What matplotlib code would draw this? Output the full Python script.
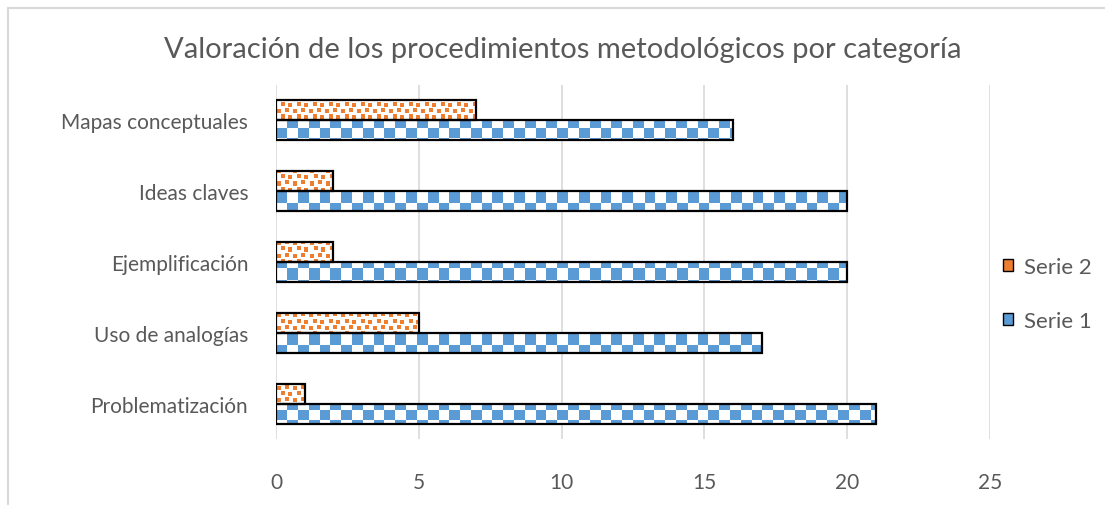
import numpy as np
import matplotlib.pyplot as plt
from matplotlib.patches import Patch
from matplotlib.lines import Line2D

categories = ['Problematización', 'Uso de analogías', 'Ejemplificación', 'Ideas claves', 'Mapas conceptuales']
serie1 = [21, 17, 20, 20, 16]
serie2 = [1, 5, 2, 2, 7]
xticks = [0, 5, 10, 15, 20, 25]

BLUE = (0x5B / 255, 0x9B / 255, 0xD5 / 255)
ORANGE = (0xED / 255, 0x7D / 255, 0x31 / 255)
TEXT = '#595959'
GRID = '#D9D9D9'

plt.rcParams['font.family'] = ['Lato', 'DejaVu Sans']

W, H = 1105, 506
fig = plt.figure(figsize=(W / 100, H / 100), dpi=100)
ax = fig.add_axes([276 / W, 66 / H, 714 / W, 354 / H])

# pixel size of the axes, for the fill patterns
aw, ah = 714, 354


def checker(color, cell=10.8):
    yy, xx = np.mgrid[0:ah, 0:aw]
    mask = ((np.floor(xx / cell) + np.floor(yy / cell)) % 2) == 0
    img = np.ones((ah, aw, 3))
    img[mask] = color
    return img


def confetti(color):
    tile = np.zeros((12, 16), dtype=bool)
    dots = [(1, 1), (0, 9), (6, 5), (7, 12)]
    for r, c in dots:
        tile[r:r + 4, c:c + 4] = True
    mask = np.tile(tile, (ah // 12 + 1, aw // 16 + 1))[:ah, :aw]
    img = np.ones((ah, aw, 3))
    img[mask] = color
    return img


ext = (0, 25, -0.5, len(categories) - 0.5)
y = np.arange(len(categories))
h = 0.283

bars1 = ax.barh(y - h / 2, serie1, height=h, facecolor='none', edgecolor='black', linewidth=1.6, zorder=3)
bars2 = ax.barh(y + h / 2, serie2, height=h, facecolor='none', edgecolor='black', linewidth=1.6, zorder=3)

pat1 = checker(BLUE)
pat2 = confetti(ORANGE)
for bar in bars1:
    im = ax.imshow(pat1, extent=ext, aspect='auto', interpolation='nearest', zorder=2)
    im.set_clip_path(bar)
for bar in bars2:
    im = ax.imshow(pat2, extent=ext, aspect='auto', interpolation='nearest', zorder=2)
    im.set_clip_path(bar)

ax.set_xlim(0, 25)
ax.set_ylim(-0.5, len(categories) - 0.5)
ax.set_xticks(xticks)
ax.set_yticks(y)
ax.set_yticklabels(categories)
ax.tick_params(axis='both', length=0, colors=TEXT, labelsize=15)
ax.tick_params(axis='y', pad=20)
ax.tick_params(axis='x', pad=24)
ax.grid(axis='x', color=GRID, linewidth=1.2, zorder=0)
ax.set_axisbelow(True)
for s in ax.spines.values():
    s.set_visible(False)

fig.text(563 / W, 1 - 50 / H, 'Valoración de los procedimientos metodológicos por categoría',
         ha='center', va='center', fontsize=21, color=TEXT)

handles = [Patch(facecolor=ORANGE, edgecolor='black', label='Serie 2'),
           Patch(facecolor=BLUE, edgecolor='black', label='Serie 1')]
fig.legend(handles=handles, loc='center left', bbox_to_anchor=(1003 / W, 1 - 295 / H),
           frameon=False, fontsize=16, labelcolor=TEXT, handlelength=0.45, handleheight=0.45,
           handletextpad=0.5, labelspacing=1.55, borderpad=0, borderaxespad=0)

# chart frame (only top and left edges visible)
fig.add_artist(Line2D([8 / W, 1], [1 - 9 / H, 1 - 9 / H], color=GRID, linewidth=1.5))
fig.add_artist(Line2D([8 / W, 8 / W], [0, 1 - 9 / H], color=GRID, linewidth=1.5))

fig.savefig('out.png', dpi=100)
